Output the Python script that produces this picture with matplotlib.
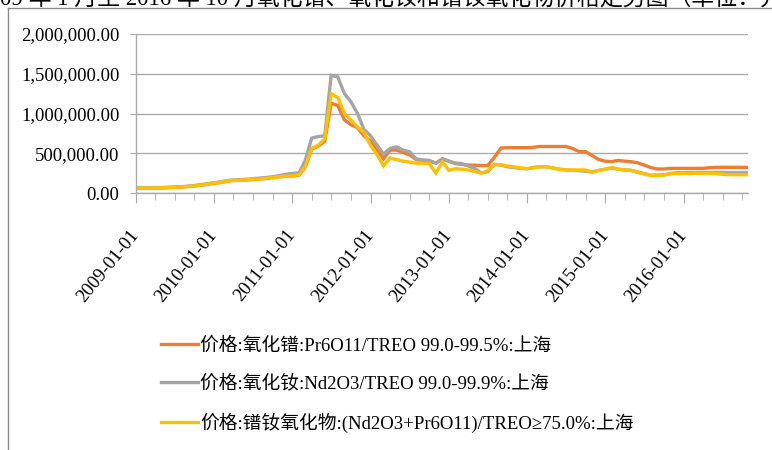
import matplotlib
matplotlib.use('Agg')
import matplotlib.pyplot as plt
import matplotlib.dates as mdates
from matplotlib.lines import Line2D
from matplotlib.ticker import FuncFormatter
import pandas as pd

# monthly dates, 2009-01 .. 2016-11
dates = pd.date_range('2009-01-01', '2016-11-01', freq='MS')

# prices in thousand yuan / ton
pr6o11 = (
    [60, 60, 60, 62, 64, 67, 71, 75, 81, 88, 98, 110] +
    [122, 132, 148, 158, 158, 163, 170, 176, 183, 193, 203, 210] +
    [212, 225, 320, 550, 590, 650, 1130, 1100, 920, 860, 820, 720] +
    [650, 530, 430, 540, 540, 510, 480, 420, 410, 400, 375, 430] +
    [400, 370, 360, 352, 350, 345, 345, 450, 565, 570, 570, 570] +
    [570, 575, 585, 585, 585, 585, 585, 560, 520, 520, 470, 420] +
    [400, 395, 410, 400, 394, 380, 352, 320, 302, 302, 310, 310] +
    [310, 310, 310, 310, 318, 323, 323, 323, 323, 323, 323]
)
nd2o3 = (
    [65, 65, 65, 66, 68, 71, 75, 80, 86, 95, 105, 118] +
    [130, 140, 155, 165, 167, 172, 180, 188, 195, 205, 218, 235] +
    [245, 255, 400, 690, 710, 720, 1480, 1460, 1250, 1150, 1000, 800] +
    [720, 600, 490, 560, 580, 540, 520, 430, 415, 410, 375, 430] +
    [400, 375, 370, 340, 310, 250, 270, 360, 350, 330, 320, 310] +
    [305, 320, 330, 330, 315, 300, 290, 285, 280, 275, 265, 285] +
    [300, 315, 300, 290, 285, 265, 245, 225, 225, 228, 245, 255] +
    [255, 258, 258, 258, 258, 258, 258, 255, 255, 255, 255]
)
prnd = (
    [62, 62, 62, 63, 65, 68, 72, 76, 82, 90, 100, 112] +
    [125, 135, 150, 160, 160, 165, 172, 178, 185, 195, 205, 212] +
    [215, 230, 330, 560, 600, 680, 1250, 1200, 1000, 920, 830, 760] +
    [600, 480, 340, 440, 420, 400, 390, 375, 375, 370, 250, 390] +
    [285, 305, 300, 290, 270, 250, 280, 360, 355, 340, 330, 315] +
    [305, 320, 330, 330, 315, 295, 290, 290, 290, 290, 260, 280] +
    [300, 320, 300, 290, 285, 260, 240, 220, 220, 225, 245, 245] +
    [245, 245, 248, 248, 248, 245, 235, 230, 230, 230, 230]
)

labels = ['价格:氧化镨:Pr6O11/TREO 99.0-99.5%:上海',
          '价格:氧化钕:Nd2O3/TREO 99.0-99.9%:上海',
          '价格:镨钕氧化物:(Nd2O3+Pr6O11)/TREO≥75.0%:上海']
colors = ['#ED7D31', '#A5A5A5', '#FFC000']
title = '09 年 1 月至 2016 年 10 月氧化镨、氧化钕和镨钕氧化物价格走势图（单位：元/吨）'

fonts = ['Liberation Serif', 'Noto Sans CJK SC']
W, H = 772, 450

fig = plt.figure(figsize=(W / 100, H / 100), dpi=100)
ax = fig.add_axes([136 / W, 1 - 193 / H, (748 - 136) / W, (193 - 34) / H])

series = [pr6o11, nd2o3, prnd]
for vals, c, lab in zip(series, colors, labels):
    ax.plot(dates, [v * 1000 for v in vals], color=c, lw=2.4, label=lab,
            solid_joinstyle='miter')

ax.set_ylim(0, 2000000)
ax.set_yticks([0, 500000, 1000000, 1500000, 2000000])
ax.yaxis.set_major_formatter(FuncFormatter(lambda v, p: f'{v:,.2f}'))
ax.set_xlim(pd.Timestamp('2009-01-01'), pd.Timestamp('2016-10-28'))
ax.xaxis.set_major_locator(mdates.YearLocator())
ax.xaxis.set_minor_locator(mdates.MonthLocator(bymonth=[1, 4, 7, 10]))
ax.xaxis.set_major_formatter(mdates.DateFormatter('%Y-%m-%d'))

ax.grid(axis='y', color='#ABABAB', lw=1)
ax.set_axisbelow(True)
for s in ['top', 'right']:
    ax.spines[s].set_visible(False)
for s in ['left', 'bottom']:
    ax.spines[s].set_color('#ABABAB')
    ax.spines[s].set_linewidth(1)

ax.tick_params(axis='y', length=4, color='#ABABAB', pad=8)
ax.tick_params(axis='x', which='major', length=7, color='#ABABAB', pad=21)
ax.tick_params(axis='x', which='minor', length=5, color='#ABABAB')
for t in ax.get_yticklabels():
    t.set_fontfamily(fonts)
    t.set_fontsize(13.5)
for t in ax.get_xticklabels():
    t.set_fontfamily(fonts)
    t.set_fontsize(13.5)
    t.set_rotation(51)
    t.set_ha('right')
    t.set_va('center')
    t.set_rotation_mode('anchor')

fig.legend(loc='upper left', bbox_to_anchor=(144 / W, 1 - 320 / H),
           frameon=False, prop={'family': fonts, 'size': 13.5},
           handlelength=2.0, handletextpad=0.1, labelspacing=1.07)

# cut-off title row and screenshot frame
fig.text(0.0, 1 - 6 / H, title, va='baseline', ha='left', fontsize=16.5,
         family=fonts)
fig.add_artist(Line2D([8 / W, 8 / W], [0, 1 - 8 / H], color='#8C8C8C', lw=1))
fig.add_artist(Line2D([8 / W, 1], [1 - 8 / H, 1 - 8 / H], color='#8C8C8C', lw=1))

fig.savefig('out.png', dpi=100)
